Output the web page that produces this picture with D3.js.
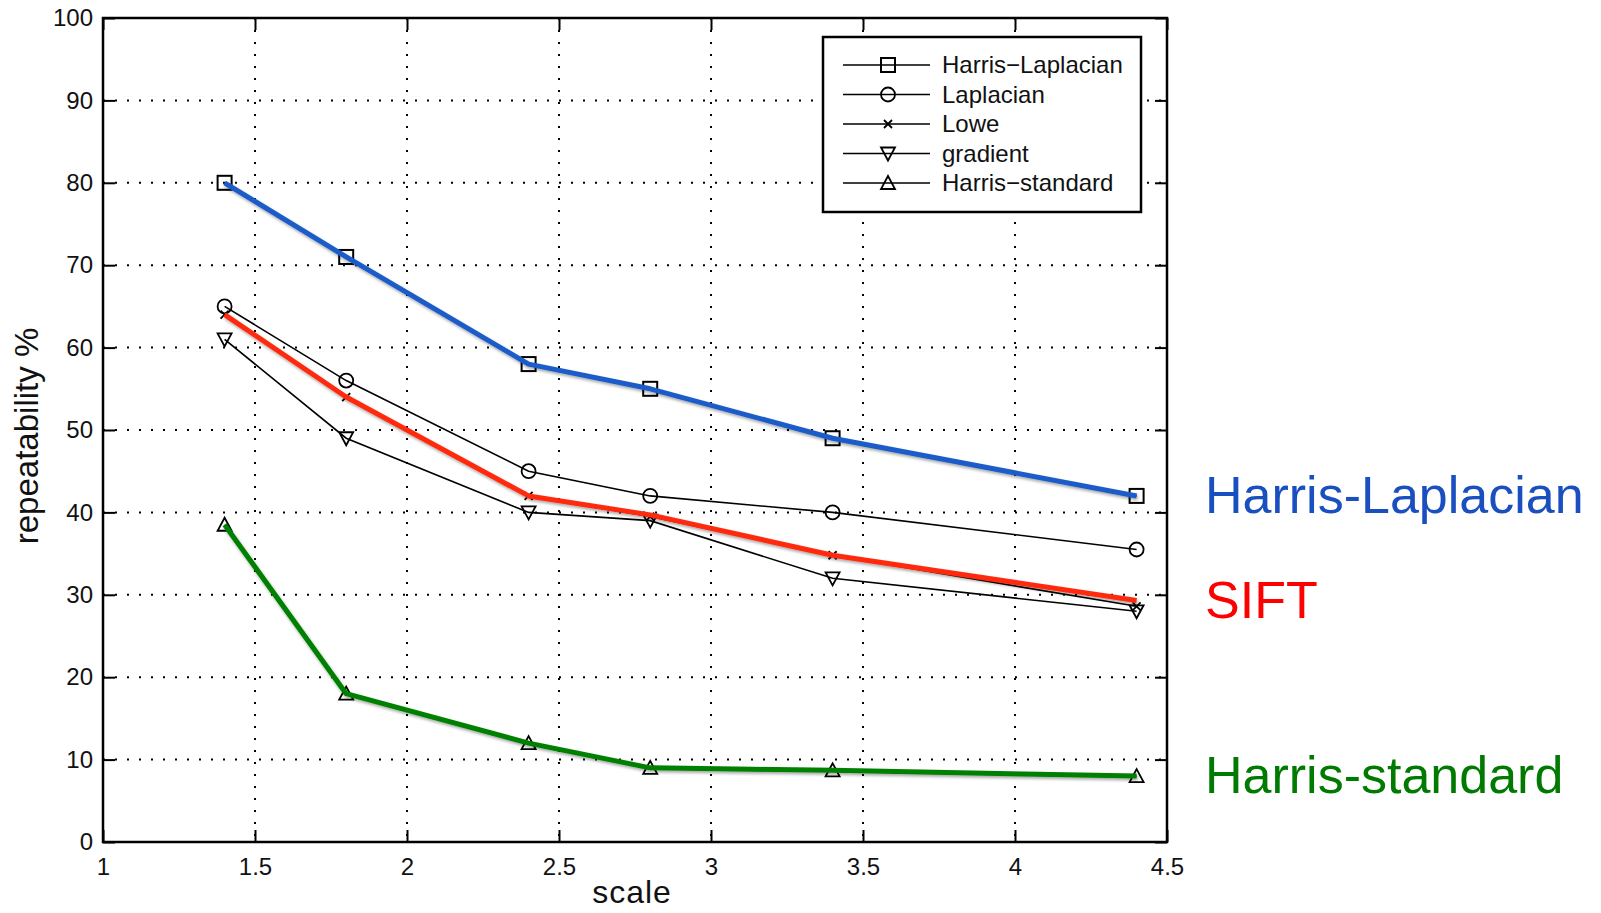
<!DOCTYPE html>
<html lang="en">
<head>
  <meta charset="UTF-8">
  <title>Repeatability vs scale</title>
  <script src="https://d3js.org/d3.v7.min.js"></script>
  <style>
    body {
      margin: 0;
      background: #fff;
      font-family: 'Liberation Sans', Arial, sans-serif;
    }
    .tick-label { font-size: 24px; fill: #111; }
    .grid line { stroke: #000; stroke-width: 2; stroke-dasharray: 2,10; }
    .legend text { font-size: 24px; fill: #111; }
  </style>
</head>
<body>
<div class="chart"></div>

<script>
  const scales = [1.4, 1.8, 2.4, 2.8, 3.4, 4.4];
  const harrisLaplacian = [80, 71, 58, 55, 49, 42];
  const laplacian = [65, 56, 45, 42, 40, 35.5];
  const lowe = [64, 54, 42, 39.5, 34.8, 28.6];
  const gradient = [61, 49, 40, 39, 32, 28];
  const harrisStandard = [38.5, 18, 12, 9, 8.7, 8];
  const sift = [64, 54, 42, 39.7, 34.8, 29.3];

  const xTicks = [1, 1.5, 2, 2.5, 3, 3.5, 4, 4.5];
  const yTicks = [0, 10, 20, 30, 40, 50, 60, 70, 80, 90, 100];

  const series = [
    { name: 'Harris\u2212Laplacian', values: harrisLaplacian, marker: 'square' },
    { name: 'Laplacian', values: laplacian, marker: 'circle' },
    { name: 'Lowe', values: lowe, marker: 'cross' },
    { name: 'gradient', values: gradient, marker: 'down' },
    { name: 'Harris\u2212standard', values: harrisStandard, marker: 'up' }
  ];

  const highlights = [
    { name: 'Harris-Laplacian', values: harrisLaplacian, color: '#1c5cc8', textColor: '#1a4fc0', labelY: 513 },
    { name: 'SIFT', values: sift, color: '#ff2a0a', textColor: '#ff0000', labelY: 618 },
    { name: 'Harris-standard', values: harrisStandard, color: '#008000', textColor: '#007a00', labelY: 793 }
  ];

  const W = 1601, H = 913;
  const plotLeft = 103, plotRight = 1167, plotTop = 18, plotBottom = 842;

  const x = d3.scaleLinear().domain([1, 4.5]).range([plotLeft, plotRight]);
  const y = d3.scaleLinear().domain([0, 100]).range([plotBottom, plotTop]);

  const svg = d3.select('.chart').append('svg')
    .attr('width', W)
    .attr('height', H);

  const defs = svg.append('defs');
  const shadow = defs.append('filter').attr('id', 'shadow')
    .attr('x', '-5%').attr('y', '-5%').attr('width', '110%').attr('height', '120%');
  shadow.append('feDropShadow')
    .attr('dx', 1).attr('dy', 2).attr('stdDeviation', 1.5)
    .attr('flood-color', '#000').attr('flood-opacity', 0.35);

  // grid
  const grid = svg.append('g').attr('class', 'grid');
  grid.selectAll('.gx')
    .data(xTicks.slice(1, -1))
    .enter().append('line')
    .attr('x1', d => x(d)).attr('x2', d => x(d))
    .attr('y1', plotTop).attr('y2', plotBottom);
  grid.selectAll('.gy')
    .data(yTicks.slice(1, -1))
    .enter().append('line')
    .attr('x1', plotLeft).attr('x2', plotRight)
    .attr('y1', d => y(d)).attr('y2', d => y(d));

  // axes (ticks point inward, box all round)
  const tickLen = 12;
  svg.append('g')
    .attr('transform', 'translate(0,' + plotBottom + ')')
    .call(d3.axisBottom(x).tickValues(xTicks).tickSizeInner(-tickLen).tickSizeOuter(0).tickPadding(16).tickFormat(d3.format('')))
    .call(g => g.select('.domain').remove())
    .call(g => g.selectAll('line').attr('stroke', '#000').attr('stroke-width', 2))
    .call(g => g.selectAll('text').attr('class', 'tick-label'));
  svg.append('g')
    .attr('transform', 'translate(0,' + plotTop + ')')
    .call(d3.axisTop(x).tickValues(xTicks).tickSizeInner(-tickLen).tickSizeOuter(0).tickFormat(''))
    .call(g => g.select('.domain').remove())
    .call(g => g.selectAll('line').attr('stroke', '#000').attr('stroke-width', 2));
  svg.append('g')
    .attr('transform', 'translate(' + plotLeft + ',0)')
    .call(d3.axisLeft(y).tickValues(yTicks).tickSizeInner(-tickLen).tickSizeOuter(0).tickPadding(10))
    .call(g => g.select('.domain').remove())
    .call(g => g.selectAll('line').attr('stroke', '#000').attr('stroke-width', 2))
    .call(g => g.selectAll('text').attr('class', 'tick-label'));
  svg.append('g')
    .attr('transform', 'translate(' + plotRight + ',0)')
    .call(d3.axisRight(y).tickValues(yTicks).tickSizeInner(-tickLen).tickSizeOuter(0).tickFormat(''))
    .call(g => g.select('.domain').remove())
    .call(g => g.selectAll('line').attr('stroke', '#000').attr('stroke-width', 2));

  // drop d3's default axis font so the css classes win
  svg.selectAll('g').attr('font-family', null).attr('font-size', null);

  svg.append('rect')
    .attr('x', plotLeft).attr('y', plotTop)
    .attr('width', plotRight - plotLeft).attr('height', plotBottom - plotTop)
    .attr('fill', 'none').attr('stroke', '#000').attr('stroke-width', 2.5);

  // axis titles
  svg.append('text')
    .attr('x', (plotLeft + plotRight) / 2 - 3)
    .attr('y', 903)
    .attr('text-anchor', 'middle')
    .style('font-size', '32px')
    .style('letter-spacing', '1px')
    .style('fill', '#111')
    .text('scale');
  svg.append('text')
    .attr('transform', 'translate(38,' + 436 + ') rotate(-90)')
    .attr('text-anchor', 'middle')
    .style('font-size', '33px')
    .style('fill', '#111')
    .text('repeatability %');

  // markers
  function drawMarker(g, type, cx, cy) {
    if (type === 'square') {
      g.append('rect').attr('x', cx - 7).attr('y', cy - 7).attr('width', 14).attr('height', 14)
        .attr('fill', 'none').attr('stroke', '#000').attr('stroke-width', 2);
    } else if (type === 'circle') {
      g.append('circle').attr('cx', cx).attr('cy', cy).attr('r', 7)
        .attr('fill', 'none').attr('stroke', '#000').attr('stroke-width', 1.8);
    } else if (type === 'cross') {
      g.append('path').attr('d', `M${cx - 4},${cy - 4}L${cx + 4},${cy + 4}M${cx - 4},${cy + 4}L${cx + 4},${cy - 4}`)
        .attr('stroke', '#000').attr('stroke-width', 1.8);
    } else if (type === 'down') {
      g.append('path').attr('d', `M${cx - 7},${cy - 6}L${cx + 7},${cy - 6}L${cx},${cy + 7}Z`)
        .attr('fill', 'none').attr('stroke', '#000').attr('stroke-width', 1.8);
    } else if (type === 'up') {
      g.append('path').attr('d', `M${cx - 7},${cy + 6}L${cx + 7},${cy + 6}L${cx},${cy - 7}Z`)
        .attr('fill', 'none').attr('stroke', '#000').attr('stroke-width', 1.8);
    }
  }

  const line = d3.line().x((d, i) => x(scales[i])).y(d => y(d));

  // black series lines
  series.forEach(s => {
    const g = svg.append('g');
    g.append('path')
      .attr('d', line(s.values))
      .attr('fill', 'none')
      .attr('stroke', '#000')
      .attr('stroke-width', 1.6);
    s.values.forEach((v, i) => drawMarker(g, s.marker, x(scales[i]), y(v)));
  });

  // coloured overlay lines
  highlights.forEach(h => {
    svg.append('path')
      .attr('d', line(h.values))
      .attr('fill', 'none')
      .attr('stroke', h.color)
      .attr('stroke-width', 5)
      .attr('stroke-linejoin', 'round')
      .attr('filter', 'url(#shadow)');
    svg.append('text')
      .attr('x', 1205)
      .attr('y', h.labelY)
      .style('font-size', '52px')
      .style('fill', h.textColor)
      .text(h.name);
  });

  // legend
  const legend = svg.append('g').attr('class', 'legend');
  legend.append('rect')
    .attr('x', 823).attr('y', 37)
    .attr('width', 318).attr('height', 175)
    .attr('fill', '#fff').attr('stroke', '#000').attr('stroke-width', 2.5);
  const rowY = d3.scaleLinear().domain([0, 4]).range([65, 183]);
  series.forEach((s, i) => {
    const yy = rowY(i);
    legend.append('line')
      .attr('x1', 843).attr('x2', 930)
      .attr('y1', yy).attr('y2', yy)
      .attr('stroke', '#000').attr('stroke-width', 1.6);
    drawMarker(legend, s.marker, 888, yy);
    legend.append('text')
      .attr('x', 942)
      .attr('y', yy + 8)
      .text(s.name);
  });
</script>
</body>
</html>
